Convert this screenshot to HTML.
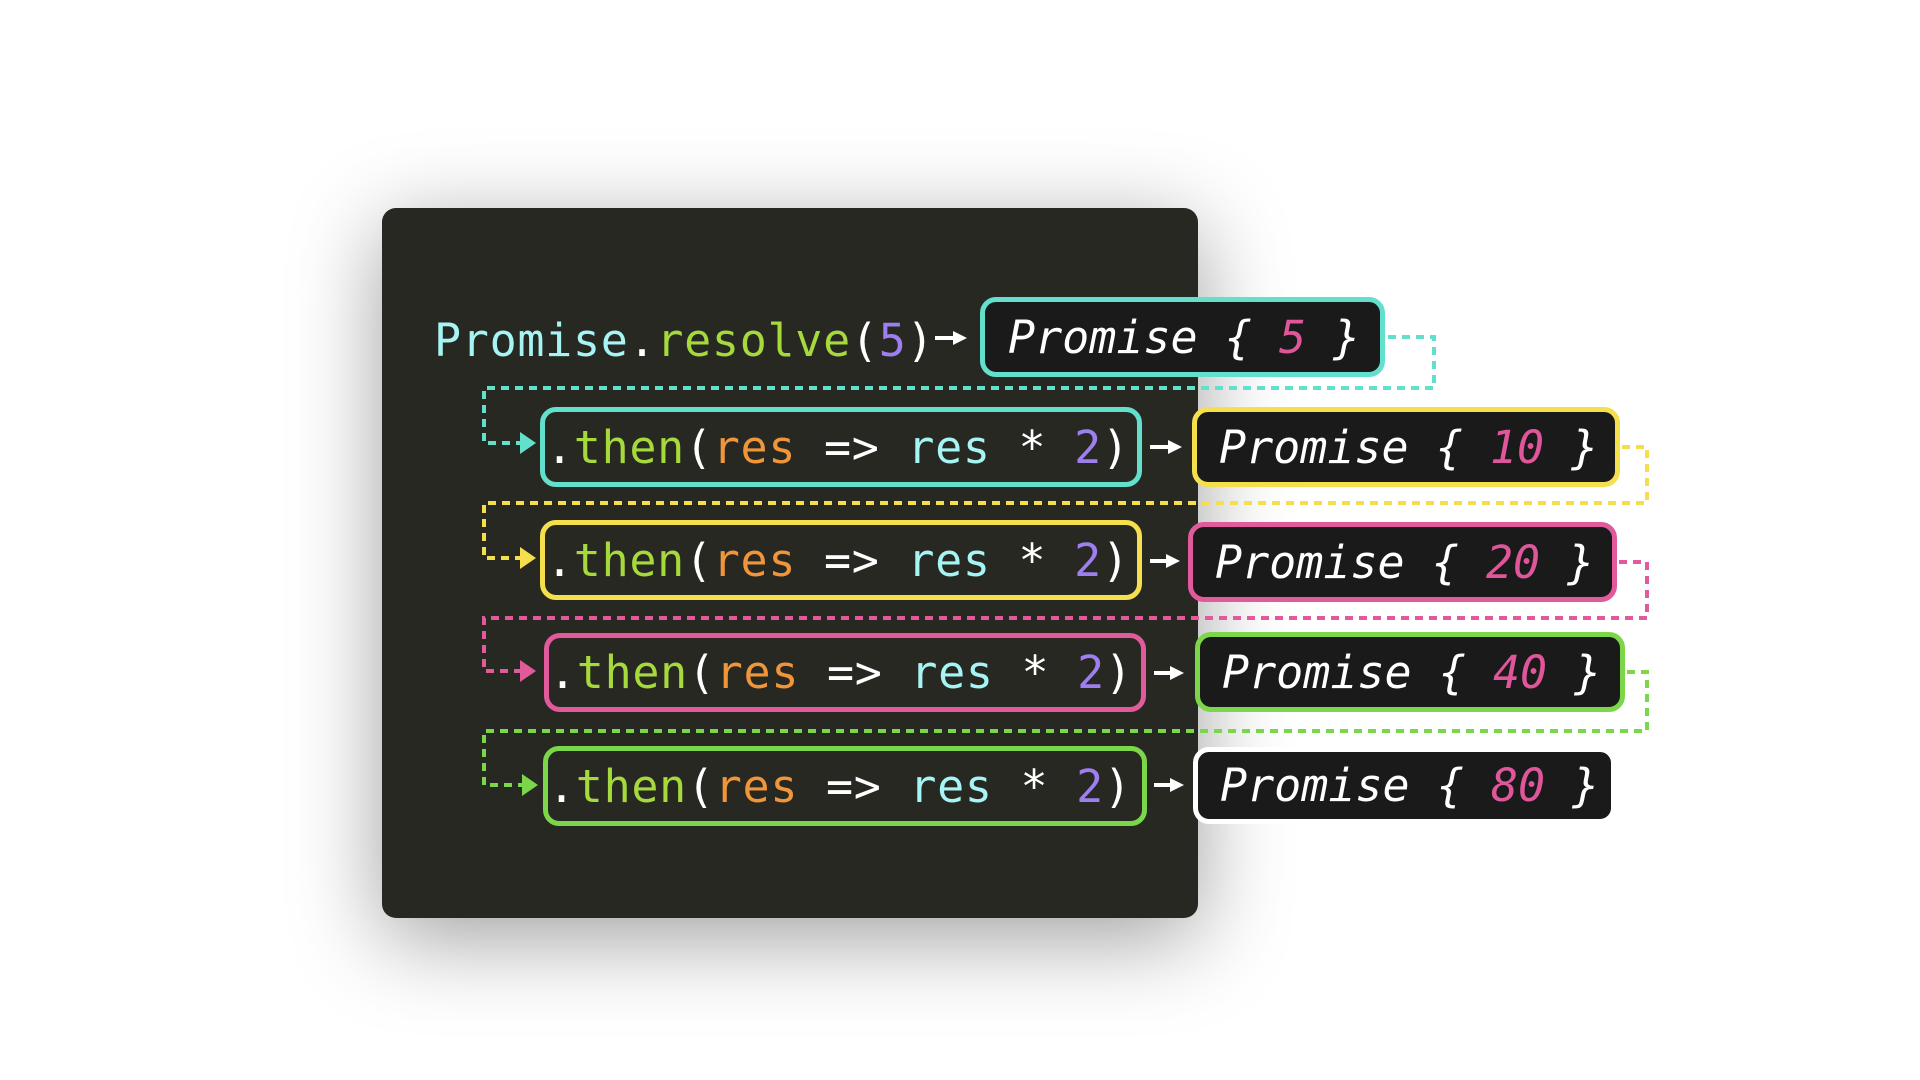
<!DOCTYPE html>
<html><head><meta charset="utf-8"><style>
html,body{margin:0;padding:0;width:1920px;height:1080px;background:#fff;overflow:hidden}
.panel{position:absolute;left:382px;top:208px;width:816px;height:710px;background:#282823;border-radius:14px;box-shadow:0 20px 90px rgba(0,0,0,.38)}
.t{position:absolute;font-family:"DejaVu Sans Mono","Liberation Mono",monospace;font-size:45px;white-space:pre;line-height:1;color:#fff}
.code{letter-spacing:0.7px}
.box{position:absolute;box-sizing:border-box;border:5px solid;border-radius:16px;display:flex;align-items:center}
.then{background:#282823}
.pr{background:#1a1a1a}
.pr span.t,.then span.t{position:static}
.i{font-style:italic}
.cy{color:#a6f4f4}.gr{color:#a6d93c}.or{color:#f0953a}.pu{color:#9e7ff0}.pk{color:#e0569a}.wh{color:#fff}
svg{position:absolute;left:0;top:0}
</style></head><body>
<div class="panel"></div>
<div class="t code" style="left:434px;top:318px"><span class="cy">Promise</span><span class="wh">.</span><span class="gr">resolve</span><span class="wh">(</span><span class="pu">5</span><span class="wh">)</span></div>

<div class="box pr" style="left:980px;top:297px;width:405px;height:80px;border-color:#62e0cc;padding-left:23px"><span class="t i">Promise { <span class="pk">5</span> }</span></div>

<div class="box then" style="left:540px;top:407px;width:602px;height:80px;border-color:#62e0cc;padding-left:1px"><span class="t code">.<span class="gr">then</span>(<span class="or">res</span> =&gt; <span class="cy">res</span> * <span class="pu">2</span>)</span></div>
<div class="box then" style="left:540px;top:520px;width:602px;height:80px;border-color:#f5df4d;padding-left:1px"><span class="t code">.<span class="gr">then</span>(<span class="or">res</span> =&gt; <span class="cy">res</span> * <span class="pu">2</span>)</span></div>
<div class="box then" style="left:544px;top:633px;width:602px;height:79px;border-color:#e05a9c;padding-left:0px"><span class="t code">.<span class="gr">then</span>(<span class="or">res</span> =&gt; <span class="cy">res</span> * <span class="pu">2</span>)</span></div>
<div class="box then" style="left:543px;top:746px;width:604px;height:80px;border-color:#7bd64a;padding-left:0px"><span class="t code">.<span class="gr">then</span>(<span class="or">res</span> =&gt; <span class="cy">res</span> * <span class="pu">2</span>)</span></div>

<div class="box pr" style="left:1192px;top:407px;width:428px;height:80px;border-color:#f5df4d;padding-left:22px"><span class="t i">Promise { <span class="pk">10</span> }</span></div>
<div class="box pr" style="left:1188px;top:522px;width:429px;height:80px;border-color:#e05a9c;padding-left:22px"><span class="t i">Promise { <span class="pk">20</span> }</span></div>
<div class="box pr" style="left:1195px;top:632px;width:430px;height:80px;border-color:#7bd64a;padding-left:22px"><span class="t i">Promise { <span class="pk">40</span> }</span></div>
<div class="box pr" style="left:1193px;top:747px;width:423px;height:77px;border-color:#fff;padding-left:22px"><span class="t i">Promise { <span class="pk">80</span> }</span></div>

<svg width="1920" height="1080" viewBox="0 0 1920 1080">
<g stroke="#fff" stroke-width="4" fill="#fff">
<line x1="935" y1="338" x2="955" y2="338"/><path d="M953,331 L967,338 L953,345z" stroke="none"/>
<line x1="1150" y1="447" x2="1170" y2="447"/><path d="M1168,440 L1182,447 L1168,454z" stroke="none"/>
<line x1="1150" y1="561" x2="1168" y2="561"/><path d="M1166,554 L1180,561 L1166,568z" stroke="none"/>
<line x1="1154" y1="673" x2="1172" y2="673"/><path d="M1170,666 L1184,673 L1170,680z" stroke="none"/>
<line x1="1154" y1="785" x2="1172" y2="785"/><path d="M1170,778 L1184,785 L1170,792z" stroke="none"/>
</g>
<g fill="none" stroke-width="4" stroke-dasharray="8 6">
<path d="M1388,337 H1434 V388 H484 V443 H520" stroke="#62e0cc"/>
<path d="M1622,447 H1647 V503 H484 V558 H520" stroke="#f5df4d"/>
<path d="M1619,562 H1647 V618 H484 V671 H520" stroke="#e05a9c"/>
<path d="M1627,672 H1647 V731 H484 V785 H522" stroke="#7bd64a"/>
</g>
<path d="M520,432 L536,443 L520,454z" fill="#62e0cc"/>
<path d="M520,547 L536,558 L520,569z" fill="#f5df4d"/>
<path d="M520,660 L536,671 L520,682z" fill="#e05a9c"/>
<path d="M522,774 L538,785 L522,796z" fill="#7bd64a"/>
</svg>
</body></html>
